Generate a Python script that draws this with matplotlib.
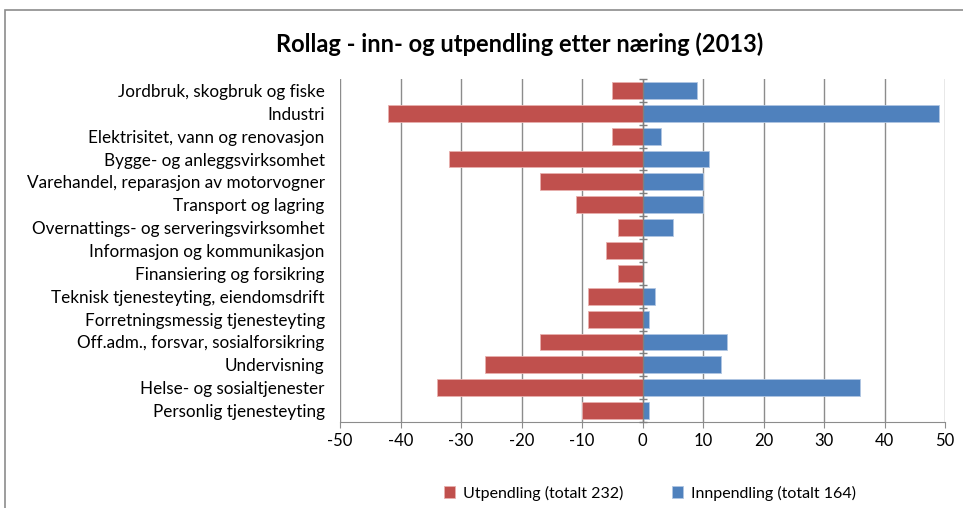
import matplotlib
matplotlib.use("Agg")
import matplotlib.pyplot as plt
import numpy as np

# --- Data ---
categories = [
    "Jordbruk, skogbruk og fiske",
    "Industri",
    "Elektrisitet, vann og renovasjon",
    "Bygge- og anleggsvirksomhet",
    "Varehandel, reparasjon av motorvogner",
    "Transport og lagring",
    "Overnattings- og serveringsvirksomhet",
    "Informasjon og kommunikasjon",
    "Finansiering og forsikring",
    "Teknisk tjenesteyting, eiendomsdrift",
    "Forretningsmessig tjenesteyting",
    "Off.adm., forsvar, sosialforsikring",
    "Undervisning",
    "Helse- og sosialtjenester",
    "Personlig tjenesteyting",
]
utpendling = [-5, -42, -5, -32, -17, -11, -4, -6, -4, -9, -9, -17, -26, -34, -10]
innpendling = [9, 49, 3, 11, 10, 10, 5, 0, 0, 2, 1, 14, 13, 36, 1]
xticks = [-50, -40, -30, -20, -10, 0, 10, 20, 30, 40, 50]

red = "#C0504D"
blue = "#4F81BD"
grid_col = "#8C8C8C"

plt.rcParams["font.family"] = ["Lato", "DejaVu Sans"]

fig = plt.figure(figsize=(9.63, 5.08), dpi=100)
fig.patches.append(plt.Rectangle((5 / 963, -0.1), 1.1, 1 - 10 / 508 + 0.1,
                                 transform=fig.transFigure, fill=False,
                                 edgecolor="#8C8C8C", linewidth=1.2))

ax = fig.add_axes([340 / 963, 1 - 422 / 508, 605 / 963, 343 / 508])

y = np.arange(len(categories))
ax.barh(y, utpendling, height=0.74, color=red, edgecolor="#E8B0AE", linewidth=0.6,
        label="Utpendling (totalt 232)", zorder=3)
ax.barh(y, innpendling, height=0.74, color=blue, edgecolor="#B0C6E2", linewidth=0.6,
        label="Innpendling (totalt 164)", zorder=3)

ax.set_xlim(-50, 50)
ax.set_ylim(len(categories) - 0.5, -0.5)
ax.set_xticks(xticks)
ax.set_xticklabels([str(v) for v in xticks], fontsize=12)
ax.set_yticks(y)
ax.set_yticklabels(categories, fontsize=12.3)
ax.tick_params(axis="y", length=0, pad=11)
ax.tick_params(axis="x", length=4, color=grid_col, pad=4)

ax.grid(axis="x", color=grid_col, linewidth=1, zorder=0)
for s in ["top", "right", "left"]:
    ax.spines[s].set_visible(False)
ax.spines["bottom"].set_color(grid_col)

# zero line with category boundary ticks
ax.axvline(0, color="#7F7F7F", linewidth=1, zorder=4)
bounds = np.arange(len(categories) + 1) - 0.5
ax.scatter(np.zeros(len(bounds)), bounds, marker="_", s=40, color="#7F7F7F",
           linewidths=1, zorder=4, clip_on=False)

fig.text(0.54, 1 - 44 / 508, "Rollag - inn- og utpendling etter næring (2013)",
         ha="center", va="center", fontsize=17, fontweight="bold")

fig.legend(loc="center", bbox_to_anchor=(0.675, 1 - 493 / 508), ncol=2,
           frameon=False, fontsize=11.5, handlelength=0.7, handleheight=0.7,
           columnspacing=3.0, handletextpad=0.5)

fig.savefig("out.png", dpi=100)
